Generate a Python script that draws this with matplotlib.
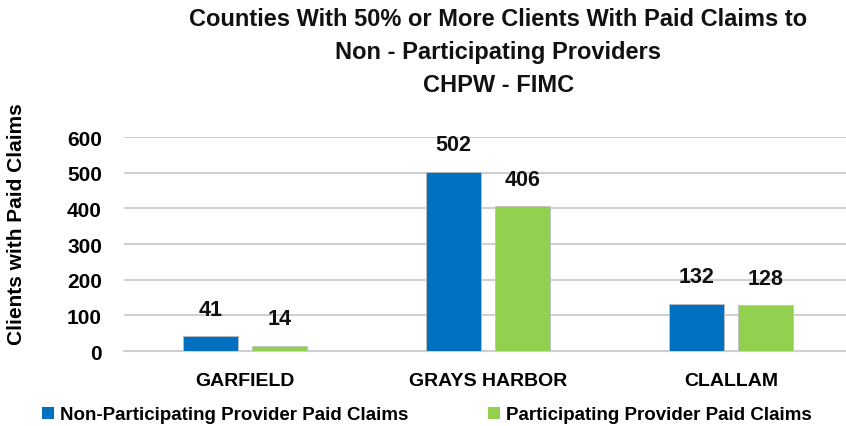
import numpy as np
import matplotlib.pyplot as plt
from matplotlib.patches import Patch

counties = ['GARFIELD', 'GRAYS HARBOR', 'CLALLAM']
non_participating = [41, 502, 132]
participating = [14, 406, 128]
series_names = ['Non-Participating Provider Paid Claims', 'Participating Provider Paid Claims']
yticks = [0, 100, 200, 300, 400, 500, 600]

plt.rcParams['font.family'] = ['Liberation Sans', 'DejaVu Sans']
plt.rcParams['font.weight'] = 'bold'

blue = '#0070C0'
green = '#92D050'

fig = plt.figure(figsize=(8.46, 4.27), dpi=100)
ax = fig.add_axes([0.146, 0.1756, 0.8617, 0.501])

x = np.arange(len(counties))
w = 0.226
off = 0.143
b1 = ax.bar(x - off, non_participating, w, color=blue, edgecolor='#BFBFBF', linewidth=0.6, zorder=3)
b2 = ax.bar(x + off, participating, w, color=green, edgecolor='#BFBFBF', linewidth=0.6, zorder=3)

for bars in (b1, b2):
    ax.bar_label(bars, padding=12, fontsize=15.5, fontweight='bold', color='#111111')

ax.set_xlim(-0.5, 2.5)
ax.set_ylim(0, 600)
ax.set_yticks(yticks)
ax.set_xticks(x)
ax.set_xticklabels(counties, fontsize=14, fontweight='bold')
ax.tick_params(axis='y', labelsize=15, length=0, pad=15.5)
ax.tick_params(axis='x', length=0, pad=15)
ax.grid(axis='y', color='#D0D0D0', linewidth=1.5, zorder=0)
for s in ['top', 'right', 'left']:
    ax.spines[s].set_visible(False)
ax.spines['bottom'].set_color('#D0D0D0')
ax.spines['bottom'].set_linewidth(1.5)

fig.text(0.0195, 0.475, 'Clients with Paid Claims', rotation=90, ha='center', va='center',
         fontsize=15, fontweight='bold')

title_lines = ['Counties With 50% or More Clients With Paid Claims to',
               'Non - Participating Providers', 'CHPW - FIMC']
for i, line in enumerate(title_lines):
    fig.text(0.589, 1 - (19 + 33 * i) / 427, line, ha='center', va='center',
             fontsize=17, fontweight='bold', color='#111111')

for name, col, x0 in [(series_names[0], blue, 42 / 846), (series_names[1], green, 488 / 846)]:
    fig.legend(handles=[Patch(facecolor=col, edgecolor='none')], labels=[name],
               loc='center left', bbox_to_anchor=(x0, 1 - 416 / 427), frameon=False,
               fontsize=13.5, handlelength=0.64, handleheight=0.64, handletextpad=0.32,
               borderpad=0, borderaxespad=0)

fig.savefig('out.png', dpi=100)
